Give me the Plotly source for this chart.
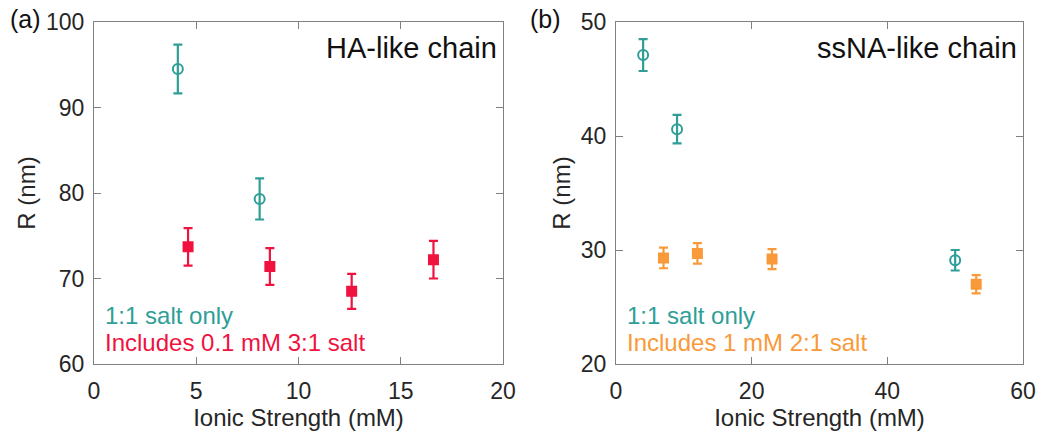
import plotly.graph_objects as go

# Panel (a): HA-like chain
ha_x_11 = [4.1, 8.1]
ha_y_11 = [94.5, 79.3]
ha_e_11 = [2.85, 2.4]
ha_x_31 = [4.6, 8.6, 12.6, 16.6]
ha_y_31 = [73.7, 71.4, 68.5, 72.2]
ha_e_31 = [2.2, 2.15, 2.05, 2.2]

# Panel (b): ssNA-like chain
ss_x_11 = [4.0, 9.0, 50.0]
ss_y_11 = [47.1, 40.6, 29.1]
ss_e_11 = [1.4, 1.25, 0.9]
ss_x_21 = [7.0, 12.0, 23.0, 53.1]
ss_y_21 = [29.3, 29.7, 29.2, 27.0]
ss_e_21 = [0.9, 0.9, 0.87, 0.8]

TEAL = "#2E9E97"
RED = "#F0123F"
ORANGE = "#F99A3A"
FONT = "Liberation Sans"
AXC = "#808080"
TXT = "#262626"

fig = go.Figure()

def add(x, y, e, color, symbol, xa, ya):
    fig.add_trace(go.Scatter(
        x=x, y=y, mode="markers", xaxis=xa, yaxis=ya,
        error_y=dict(type="data", array=e, visible=True, color=color, thickness=2.2, width=4.5),
        marker=dict(symbol=symbol, size=10 if "open" in symbol else 9, color=color,
                    line=dict(color=color, width=2)),
        showlegend=False))

add(ha_x_11, ha_y_11, ha_e_11, TEAL, "circle-open", "x", "y")
add(ha_x_31, ha_y_31, ha_e_31, RED, "square", "x", "y")
add(ss_x_11, ss_y_11, ss_e_11, TEAL, "circle-open", "x2", "y2")
add(ss_x_21, ss_y_21, ss_e_21, ORANGE, "square", "x2", "y2")

axcommon = dict(showline=True, linecolor=AXC, linewidth=1.2, mirror="ticks", ticks="inside",
                ticklen=7, tickcolor=AXC, tickwidth=1.2, showgrid=False, zeroline=False,
                automargin=False,
                tickfont=dict(family=FONT, size=23, color=TXT),
                title_font=dict(family=FONT, size=24, color=TXT))

xax = dict(ticklabelstandoff=6, **axcommon)
yax = dict(ticklabelstandoff=4, **axcommon)

fig.update_layout(
    width=1039, height=431, margin=dict(l=0, r=0, t=0, b=0),
    paper_bgcolor="white", plot_bgcolor="white",
    xaxis=dict(domain=[94/1039, 503/1039], range=[0, 20], tickvals=[0, 5, 10, 15, 20],
               title=dict(text="Ionic Strength (mM)", standoff=11), anchor="y", **xax),
    yaxis=dict(domain=[1-364/431, 1-22/431], range=[60, 100], tickvals=[60, 70, 80, 90, 100],
               title=dict(text="R (nm)", standoff=3), anchor="x", **yax),
    xaxis2=dict(domain=[616/1039, 1023/1039], range=[0, 60], tickvals=[0, 20, 40, 60],
                title=dict(text="Ionic Strength (mM)", standoff=11), anchor="y2", **xax),
    yaxis2=dict(domain=[1-364/431, 1-22/431], range=[20, 50], tickvals=[20, 30, 40, 50],
                title=dict(text="R (nm)", standoff=3), anchor="x2", **yax),
)

def ann(text, x, y, xref, yref, color, size, xanchor, yanchor="middle"):
    fig.add_annotation(text=text, x=x, y=y, xref=xref, yref=yref, showarrow=False,
                       xanchor=xanchor, yanchor=yanchor,
                       font=dict(family=FONT, size=size, color=color))

ann("HA-like chain", 0.99, 0.925, "x domain", "y domain", "#111111", 29, "right")
ann("ssNA-like chain", 0.99, 0.925, "x2 domain", "y2 domain", "#111111", 29, "right")
ann("1:1 salt only", 0.022, 0.141, "x domain", "y domain", TEAL, 24, "left")
ann("Includes 0.1 mM 3:1 salt", 0.022, 0.062, "x domain", "y domain", RED, 24, "left")
ann("1:1 salt only", 0.022, 0.141, "x2 domain", "y2 domain", TEAL, 24, "left")
ann("Includes 1 mM 2:1 salt", 0.022, 0.062, "x2 domain", "y2 domain", ORANGE, 24, "left")
ann("(a)", 8/1039, 1-19/431, "paper", "paper", "#111111", 25, "left")
ann("(b)", 528/1039, 1-19/431, "paper", "paper", "#111111", 25, "left")

fig.write_html("out.html")
